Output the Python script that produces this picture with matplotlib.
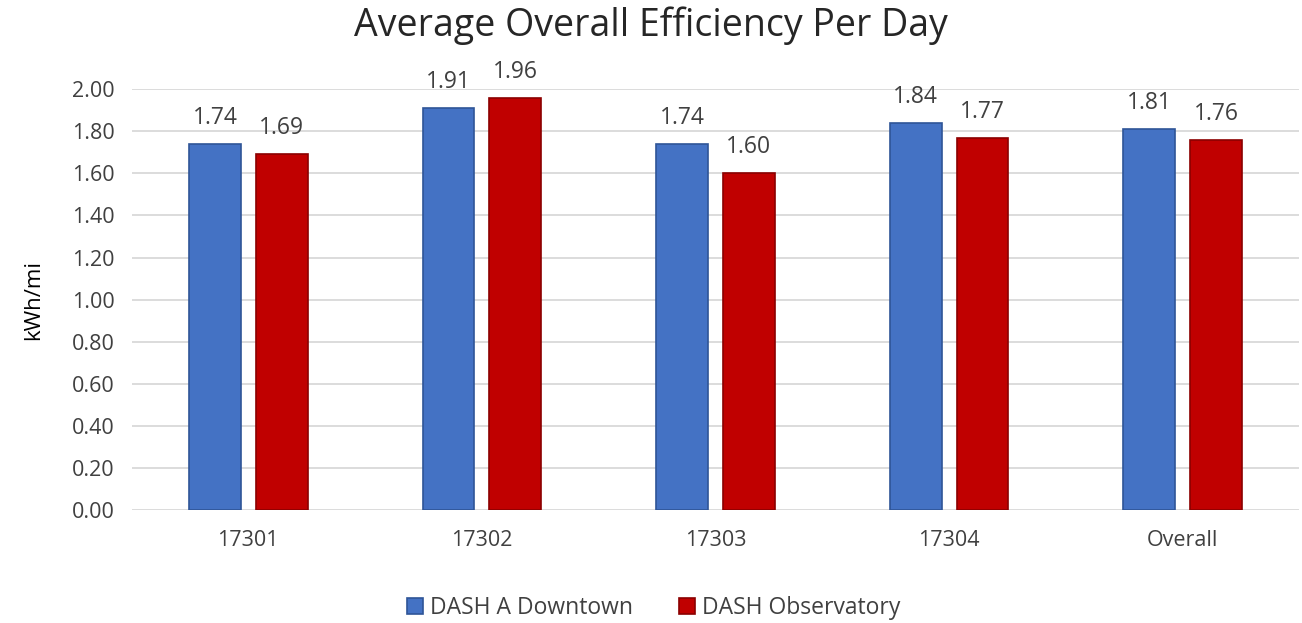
import numpy as np
import matplotlib.pyplot as plt

plt.rcParams['font.family'] = ['Open Sans', 'DejaVu Sans']

# data
categories = ['17301', '17302', '17303', '17304', 'Overall']
downtown = [1.74, 1.91, 1.74, 1.84, 1.81]
observatory = [1.69, 1.96, 1.60, 1.77, 1.76]
series_names = ['DASH A Downtown', 'DASH Observatory']

text_col = '#404040'
blue, blue_edge = '#4472C4', '#2F5597'
red, red_edge = '#C00000', '#8B0000'

fig = plt.figure(figsize=(13.02, 6.23), dpi=100)
ax = fig.add_axes([0.101, 0.181, 0.897, 0.676])

x = np.arange(len(categories))
w = 0.222
off = 0.143
b1 = ax.bar(x - off, downtown, w, color=blue, edgecolor=blue_edge, linewidth=1.2,
            label=series_names[0], zorder=3)
b2 = ax.bar(x + off, observatory, w, color=red, edgecolor=red_edge, linewidth=1.2,
            label=series_names[1], zorder=3)

for bars in (b1, b2):
    ax.bar_label(bars, labels=[f'{v:.2f}' for v in bars.datavalues], padding=10,
                 fontsize=16.5, color=text_col)

ax.set_xlim(-0.5, len(categories) - 0.5)
ax.set_ylim(0, 2.0)
yt = np.arange(0, 2.01, 0.2)
ax.set_yticks(yt)
ax.set_yticklabels([f'{v:.2f}' for v in yt])
ax.set_xticks(x)
ax.set_xticklabels(categories)
ax.tick_params(axis='both', length=0, labelsize=15.5, colors=text_col, pad=12)
ax.tick_params(axis='x', pad=14)
ax.grid(axis='y', color='#D9D9D9', linewidth=1.3, zorder=0)
for s in ax.spines.values():
    s.set_visible(False)

ax.set_ylabel('kWh/mi', fontsize=16, color='black', labelpad=20)
fig.suptitle('Average Overall Efficiency Per Day', fontsize=27, color='#262626', y=0.99)

ax.legend(loc='lower center', bbox_to_anchor=(0.447, -0.31), ncol=2, frameon=False,
          fontsize=16.5, handlelength=0.7, handleheight=0.7, columnspacing=2.0,
          handletextpad=0.3, labelcolor=text_col)

plt.savefig('out.png', dpi=100)
plt.close()
